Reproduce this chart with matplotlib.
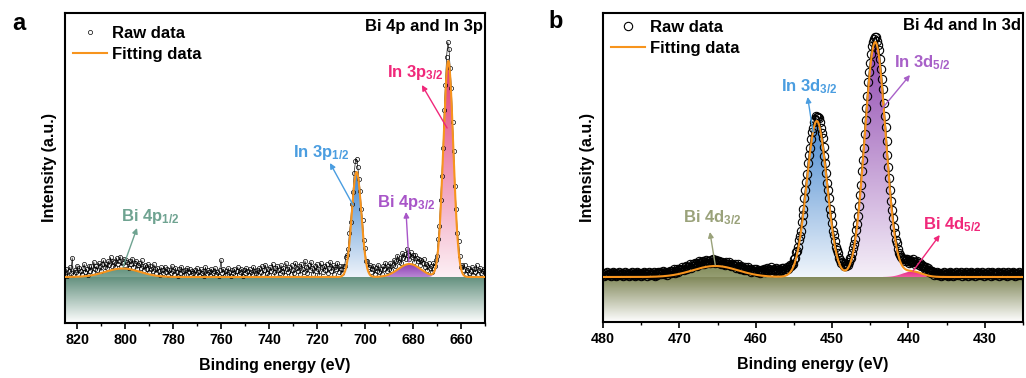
import numpy as np
import matplotlib
matplotlib.use("Agg")
import matplotlib.pyplot as plt
from matplotlib.colors import LinearSegmentedColormap
from matplotlib.patches import Polygon
from matplotlib.lines import Line2D
from matplotlib.ticker import MultipleLocator

plt.rcParams['font.family'] = ['Liberation Sans', 'DejaVu Sans']
plt.rcParams['font.weight'] = 'bold'
plt.rcParams['axes.labelweight'] = 'bold'
plt.rcParams['mathtext.fontset'] = 'custom'
plt.rcParams['mathtext.rm'] = 'Liberation Sans:bold'
plt.rcParams['mathtext.it'] = 'Liberation Sans:bold'
plt.rcParams['mathtext.bf'] = 'Liberation Sans:bold'

ORANGE = '#f7941d'

# ---------------- panel a : Bi 4p and In 3p ----------------
a_range = (825, 650)
a_step = 0.5
a_peak_names = ['Bi 4p$_{1/2}$', 'In 3p$_{1/2}$', 'Bi 4p$_{3/2}$', 'In 3p$_{3/2}$']
a_peak_center = [801.0, 703.5, 681.5, 665.3]
a_peak_height = [8.5, 105, 13, 216]
a_peak_fwhm = [17, 4.7, 11, 4.9]
# raw data = fit + offset, one value every 0.5 eV from 825 eV down to 650 eV
a_raw_offset = [
    3, 8, 1, 6, 10, 4, 19, 2, 7, 5, 11, 3, 9, 6, 2, 8, 12, 4, 7, 1, 10, 5, 9, 3, 13, 6, 8,
    4, 11, 7, 2, 9, 12, 5, 8, 3, 10, 6, 13, 4, 9, 7, 2, 11, 5, 8, 12, 3, 6, 10, 4, 9, 7, 1,
    8, 5, 11, 3, 7, 10, 2, 6, 9, 4, 12, 7, 3, 8, 5, 10, 2, 9, 6, 4, 11, 7, 3, 8, 5, 1, 9,
    6, 3, 10, 5, 8, 2, 7, 4, 11, 6, 3, 9, 5, 1, 8, 4, 10, 6, 2, 7, 3, 9, 5, 8, 2, 6, 4,
    7, 3, 9, 5, 2, 8, 4, 6, 1, 10, 3, 7, 5, 2, 8, 4, 6, 9, 3, 5, 1, 7, 17, 4, 8, 2, 6,
    3, 9, 5, 1, 7, 4, 8, 2, 6, 10, 3, 5, 8, 1, 7, 4, 9, 6, 2, 8, 5, 3, 10, 6, 4, 7, 2,
    9, 5, 11, 3, 7, 12, 4, 8, 2, 10, 6, 13, 5, 9, 3, 11, 7, 4, 12, 6, 9, 2, 14, 8, 5, 10, 3,
    12, 7, 4, 14, 9, 6, 11, 3, 13, 8, 5, 16, 10, 4, 12, 7, 15, 9, 3, 11, 6, 13, 8, 2, 14, 10, 5,
    11, 7, 13, 4, 9, 15, 6, 12, 3, 10, 8, 14, 5, 11, 7, 3, 9, 6, 12, 8, 5, 10, 7, 9, 6, 11, 14,
    13, 8, 5, 7, 4, 9, 3, 6, 2, 8, 5, 10, 4, 7, 11, 3, 9, 6, 12, 5, 8, 2, 10, 7, 13, 4, 9,
    6, 11, 3, 8, 12, 5, 9, 14, 7, 10, 4, 13, 8, 11, 6, 15, 9, 5, 12, 7, 10, 3, 11, 8, 6, 9, 4,
    10, 7, 12, 5, 9, 3, 11, 6, 8, 2, 10, 5, 7, 4, 9, 6, 11, 8, 5, 12, 9, 16, 20, 14, 8, 11, 6,
    9, 4, 7, 3, 10, 6, 2, 8, 5, 11, 3, 7, 9, 4, 6, 10, 2, 8, 5, 12, 3, 7, 9, 4, 6, 8, 5,
]
a_fill_top = ['#65937f', '#3f86cf', '#8e3fb5', '#e03a72']
a_fill_bottom = ['#7ea695', '#eef3fa', '#b987d3', '#fdf0f5']
a_label_color = ['#6fa391', '#4a9de0', '#a855c8', '#f0287a']
a_label_pos = [(801.7, 60), (730.0, 125), (695.0, 75), (690.8, 204)]
a_arrow = [((800.8, 10), (795.0, 49)), ((705.0, 72), (714.6, 114)),
           ((681.7, 15), (682.9, 65)), ((665.8, 149), (676.3, 192))]

# ---------------- panel b : Bi 4d and In 3d ----------------
b_range = (480, 425)
b_step = 0.125
b_peak_names = ['Bi 4d$_{3/2}$', 'In 3d$_{3/2}$', 'In 3d$_{5/2}$', 'Bi 4d$_{5/2}$']
b_peak_center = [465.3, 452.0, 444.35, 439.5]
b_peak_height = [11, 156, 235, 5.5]
b_peak_fwhm = [7.0, 3.1, 3.2, 3.0]
# raw data = fit + offset, one value every 0.125 eV from 480 eV down to 425 eV
b_raw_offset = [
    3, 1, 4, 2, 5, 3, 2, 4, 1, 3, 5, 2, 4, 3, 1, 4, 2, 5, 3, 2, 4,
    1, 3, 5, 2, 4, 3, 1, 4, 2, 5, 3, 2, 4, 1, 3, 5, 2, 4, 3, 1, 4,
    2, 5, 3, 4, 1, 3, 5, 2, 4, 3, 2, 5, 1, 4, 3, 2, 5, 3, 4, 2, 3,
    5, 2, 4, 3, 1, 4, 3, 5, 2, 4, 3, 6, 2, 4, 5, 3, 2, 5, 4, 3, 6,
    4, 3, 5, 6, 3, 5, 4, 7, 3, 5, 6, 4, 7, 5, 3, 6, 4, 7, 5, 6, 4,
    6, 3, 5, 7, 4, 6, 5, 3, 6, 4, 7, 5, 3, 6, 4, 5, 3, 5, 4, 2, 5,
    3, 4, 2, 5, 3, 4, 6, 3, 2, 5, 4, 3, 5, 2, 4, 6, 3, 4, 2, 5, 3,
    4, 2, 5, 3, 4, 6, 3, 5, 2, 4, 3, 5, 4, 6, 3, 5, 4, 2, 5, 4, 6,
    5, 7, 4, 6, 8, 5, 7, 6, 9, 5, 7, 8, 6, 9, 7, 5, 8, 6, 7, 9, 6,
    8, 5, 7, 6, 8, 5, 6, 7, 5, 6, 4, 6, 5, 7, 5, 4, 6, 5, 4, 6, 5,
    4, 6, 5, 5, 4, 6, 5, 4, 5, 6, 4, 5, 5, 6, 4, 5, 6, 5, 4, 5, 6,
    5, 4, 6, 5, 4, 5, 6, 4, 5, 5, 4, 6, 5, 4, 5, 6, 4, 5, 4, 6, 5,
    4, 5, 6, 4, 5, 3, 4, 5, 3, 4, 5, 4, 3, 5, 4, 3, 4, 5, 4, 6, 5,
    4, 5, 6, 5, 4, 6, 5, 4, 5, 6, 5, 4, 5, 6, 4, 5, 6, 5, 4, 5, 6,
    5, 4, 6, 5, 4, 5, 6, 5, 4, 5, 6, 4, 5, 4, 6, 5, 4, 5, 6, 7, 8,
    9, 8, 10, 11, 9, 10, 8, 11, 9, 10, 12, 9, 8, 10, 11, 9, 8, 10, 7, 9, 8,
    7, 6, 8, 5, 7, 4, 6, 5, 3, 5, 4, 2, 4, 3, 5, 2, 4, 3, 1, 4, 2,
    5, 3, 2, 4, 1, 3, 5, 2, 4, 3, 1, 4, 2, 5, 3, 2, 4, 3, 5, 1, 3,
    4, 2, 5, 3, 1, 4, 3, 2, 5, 2, 4, 3, 1, 4, 5, 2, 3, 4, 2, 5, 3,
    1, 4, 3, 2, 5, 3, 4, 1, 3, 5, 2, 4, 3, 2, 4, 5, 1, 3, 4, 2, 5,
    3, 2, 4, 1, 5, 3, 2, 4, 3, 5, 2, 4, 1, 3, 4, 2, 5, 3, 2, 4, 3,
]
b_fill_top = ['#858f5e', '#4a8ad0', '#9048b0', '#e8288a']
b_fill_bottom = ['#959d72', '#f0f5fb', '#f5f0f8', '#f05aa0']
b_label_color = ['#9aa27a', '#4a9de0', '#a860c8', '#f0287a']
b_label_pos = [(469.5, 59), (456.7, 190), (441.9, 214), (438.1, 52)]
b_arrow = [((465.3, 12), (466.0, 45)), ((452.5, 145), (453.2, 180)),
           ((443.6, 167), (439.8, 202)), ((439.4, 6), (435.9, 42))]


def gauss(x, c, h, w):
    return h * np.exp(-4 * np.log(2) * (x - c) ** 2 / w ** 2)


def gradient_patch(ax, x, y_low, y_high, c_top, c_bottom, z):
    verts = np.column_stack([np.concatenate([x, x[::-1]]),
                             np.concatenate([y_high, y_low[::-1]])])
    poly = Polygon(verts, closed=True, fc='none', ec='none')
    ax.add_patch(poly)
    cmap = LinearSegmentedColormap.from_list('g', [c_bottom, c_top])
    im = ax.imshow(np.linspace(0, 1, 256).reshape(-1, 1), cmap=cmap, origin='lower',
                   aspect='auto', interpolation='bilinear', zorder=z,
                   extent=[x.min(), x.max(), y_low.min(), y_high.max()])
    im.set_clip_path(poly)


def draw_panel(ax, xr, step, centers, heights, fwhms, offsets, tops, bottoms,
               names, lcolors, lpos, arrows, bg_color, ylim, ms, mew, raw_lw,
               major, title, leg_y):
    xf = np.linspace(xr[0], xr[1], 3000)
    comps = [gauss(xf, c, h, w) for c, h, w in zip(centers, heights, fwhms)]
    fit = np.sum(comps, axis=0)

    # background below the baseline
    gradient_patch(ax, xf, np.full_like(xf, ylim[0]), np.zeros_like(xf), bg_color, '#ffffff', 0.5)
    for comp, ct, cb in zip(comps, tops, bottoms):
        m = comp > 0.05
        gradient_patch(ax, xf[m], np.zeros(m.sum()), comp[m], ct, cb, 1)

    energy = xr[0] - step * np.arange(len(offsets))
    raw = sum(gauss(energy, c, h, w) for c, h, w in zip(centers, heights, fwhms)) + np.array(offsets)
    ax.plot(energy, raw, '-', color='black', lw=raw_lw, zorder=3)
    ax.plot(energy, raw, 'o', mfc='none', mec='black', ms=ms, mew=mew, zorder=3)
    ax.plot(xf, fit, color=ORANGE, lw=1.5, zorder=4)

    for name, col, (tx, ty), (tail, head) in zip(names, lcolors, lpos, arrows):
        ax.text(tx, ty, name, color=col, fontsize=12, ha='left', va='center', zorder=6)
        ax.annotate('', xy=head, xytext=tail,
                    arrowprops=dict(arrowstyle='-|>', color=col, lw=1.0, mutation_scale=8,
                                    shrinkA=0, shrinkB=0), zorder=6)

    ax.text(0.995, 0.958, title, transform=ax.transAxes, ha='right', va='center', fontsize=12)
    handles = [Line2D([], [], ls='none', marker='o', mfc='none', mec='black', ms=ms, mew=mew),
               Line2D([], [], color=ORANGE, lw=1.5)]
    ax.legend(handles, ['Raw data', 'Fitting data'], loc='upper left', frameon=False,
              bbox_to_anchor=(0.0, leg_y), prop={'weight': 'bold', 'size': 12},
              handlelength=2.0, handletextpad=0.3, labelspacing=0.35,
              borderaxespad=0.3, borderpad=0.2)

    ax.set_xlim(xr)
    ax.set_ylim(ylim)
    ax.xaxis.set_major_locator(MultipleLocator(major))
    ax.xaxis.set_minor_locator(MultipleLocator(major / 2))
    ax.tick_params(axis='x', which='major', direction='out', length=4, width=1.2, labelsize=10.3, pad=3)
    ax.tick_params(axis='x', which='minor', direction='out', length=2.5, width=1.0)
    ax.set_yticks([])
    for s in ax.spines.values():
        s.set_linewidth(1.5)
    ax.set_xlabel('Binding energy (eV)', fontsize=11.5, labelpad=8)
    ax.set_ylabel('Intensity (a.u.)', fontsize=11.5, labelpad=6)


fig = plt.figure(figsize=(10.26, 3.78), dpi=100)
ax_a = fig.add_axes([65 / 1026, 1 - 323 / 378, 420 / 1026, 310 / 378])
ax_b = fig.add_axes([603 / 1026, 1 - 322 / 378, 420 / 1026, 309 / 378])

draw_panel(ax_a, a_range, a_step, a_peak_center, a_peak_height, a_peak_fwhm, a_raw_offset,
           a_fill_top, a_fill_bottom, a_peak_names, a_label_color, a_label_pos, a_arrow,
           '#63907e', (-46, 264), 3.0, 0.5, 0.45, 20, 'Bi 4p and In 3p', 0.985)
draw_panel(ax_b, b_range, b_step, b_peak_center, b_peak_height, b_peak_fwhm, b_raw_offset,
           b_fill_top, b_fill_bottom, b_peak_names, b_label_color, b_label_pos, b_arrow,
           '#81885a', (-45, 264), 6.0, 0.8, 1.0, 10, 'Bi 4d and In 3d', 1.005)

fig.text(12 / 1026, 1 - 23 / 378, 'a', fontsize=17, fontweight='bold', va='center', ha='left')
fig.text(548 / 1026, 1 - 22 / 378, 'b', fontsize=17, fontweight='bold', va='center', ha='left')

fig.savefig('out.png', dpi=100)
